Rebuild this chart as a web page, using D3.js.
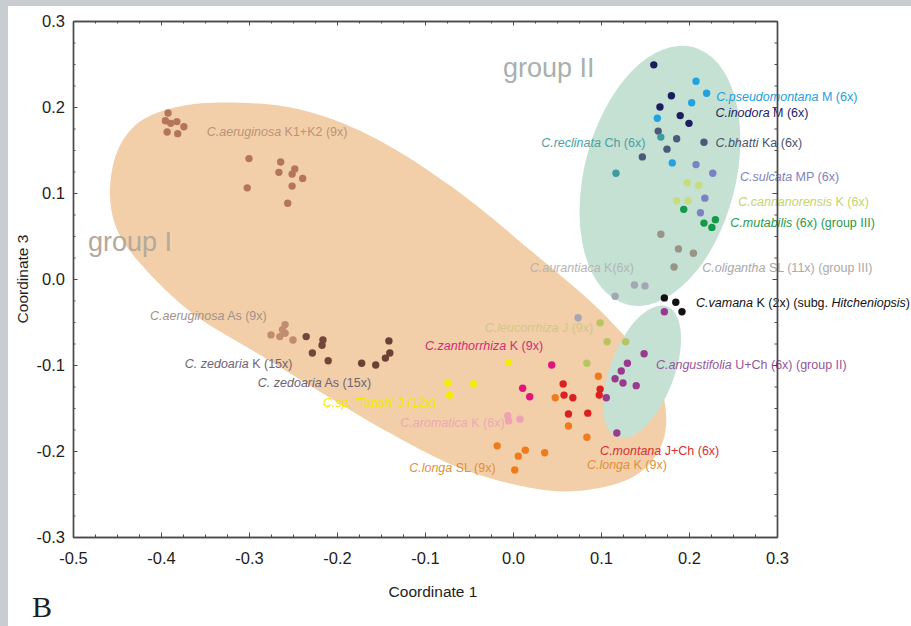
<!DOCTYPE html>
<html>
<head>
<meta charset="utf-8">
<script src="https://cdn.jsdelivr.net/npm/d3@7"></script>
<style>
  body { margin: 0; background: #fff; }
  svg { display: block; font-family: "Liberation Sans", Arial, sans-serif; }
  text { white-space: pre; }
</style>
</head>
<body>
<svg id="chart" width="911" height="626"></svg>
<script>
// ---- data (Coordinate 1, Coordinate 3) ----
var aeruginosaK = [[-0.392,0.193],[-0.395,0.184],[-0.389,0.181],[-0.382,0.183],[-0.374,0.177],[-0.393,0.171],[-0.381,0.169],
  [-0.300,0.140],[-0.302,0.106],[-0.264,0.136],[-0.266,0.124],[-0.248,0.128],[-0.251,0.122],[-0.239,0.117],[-0.251,0.108],[-0.256,0.088]];
var aeruginosaAs = [[-0.259,-0.053],[-0.275,-0.065],[-0.265,-0.067],[-0.259,-0.063],[-0.250,-0.071],[-0.262,-0.059]];
var zedoariaK = [[-0.235,-0.067],[-0.216,-0.071],[-0.217,-0.077],[-0.228,-0.086],[-0.210,-0.095]];
var zedoariaAs = [[-0.172,-0.098],[-0.156,-0.100],[-0.141,-0.072],[-0.140,-0.086],[-0.145,-0.092]];
var tanah = [[-0.005,-0.097],[-0.074,-0.121],[-0.045,-0.122],[-0.072,-0.135]];
var zanthorrhiza = [[0.044,-0.100],[0.011,-0.127],[0.019,-0.137]];
var aromatica = [[-0.006,-0.159],[-0.005,-0.165],[0.008,-0.163]];
var longaSL = [[-0.018,-0.194],[0.006,-0.206],[0.014,-0.199],[0.036,-0.202],[0.002,-0.222]];
var longaK = [[0.048,-0.138],[0.063,-0.171],[0.084,-0.184],[0.097,-0.113]];
var montana = [[0.057,-0.122],[0.058,-0.135],[0.068,-0.138],[0.063,-0.157],[0.085,-0.156],[0.099,-0.128],[0.098,-0.135]];
var leucorrhiza = [[0.099,-0.051],[0.107,-0.073],[0.128,-0.073],[0.084,-0.098]];
var angustifolia = [[0.172,-0.038],[0.149,-0.087],[0.130,-0.098],[0.123,-0.107],[0.116,-0.116],[0.125,-0.121],[0.140,-0.124],[0.106,-0.138],[0.118,-0.179]];
var vamana = [[0.172,-0.022],[0.185,-0.027],[0.192,-0.038]];
var aurantiaca = [[0.074,-0.045],[0.116,-0.020],[0.138,-0.007],[0.150,-0.008]];
var oligantha = [[0.168,0.052],[0.188,0.035],[0.205,0.030],[0.183,0.014]];
var mutabilis = [[0.194,0.081],[0.217,0.065],[0.226,0.060],[0.230,0.069]];
var cannanorensis = [[0.198,0.112],[0.211,0.109],[0.186,0.091],[0.199,0.091]];
var sulcata = [[0.208,0.133],[0.227,0.123],[0.218,0.094],[0.213,0.077]];
var bhatti = [[0.165,0.172],[0.186,0.163],[0.175,0.151],[0.147,0.142],[0.217,0.159]];
var reclinata = [[0.168,0.165],[0.117,0.123]];
var inodora = [[0.160,0.249],[0.180,0.213],[0.167,0.200],[0.190,0.190],[0.200,0.181]];
var pseudomontana = [[0.208,0.230],[0.220,0.216],[0.203,0.205],[0.164,0.187],[0.181,0.135]];

// species labels (*...* = italic)
var seriesLabels = [
  "*C.aeruginosa* K1+K2 (9x)", "*C.aeruginosa* As (9x)", "*C. zedoaria* K (15x)", "*C. zedoaria* As (15x)",
  "*C.sp.* 'Tanah' J (12x)", "*C.zanthorrhiza* K (9x)", "*C.aromatica* K (6x)", "*C.longa* SL (9x)",
  "*C.longa* K (9x)", "*C.montana* J+Ch (6x)", "*C.leucorrhiza* J (9x)", "*C.angustifolia* U+Ch (6x) (group II)",
  "*C.vamana* K (2x) (subg. *Hitcheniopsis*)", "*C.aurantiaca* K(6x)", "*C.oligantha* SL (11x) (group III)",
  "*C.mutabilis* (6x) (group III)", "*C.cannanorensis* K (6x)", "*C.sulcata* MP (6x)", "*C.bhatti* Ka (6x)",
  "*C.reclinata* Ch (6x)", "*C.inodora* M (6x)", "*C.pseudomontana* M (6x)"
];
var seriesData = [aeruginosaK, aeruginosaAs, zedoariaK, zedoariaAs, tanah, zanthorrhiza, aromatica, longaSL,
  longaK, montana, leucorrhiza, angustifolia, vamana, aurantiaca, oligantha, mutabilis, cannanorensis,
  sulcata, bhatti, reclinata, inodora, pseudomontana];

var xTicks = [-0.5, -0.4, -0.3, -0.2, -0.1, 0.0, 0.1, 0.2, 0.3];
var yTicks = [-0.3, -0.2, -0.1, 0.0, 0.1, 0.2, 0.3];

// ---- styles / layout ----
var pointColors = ["#b4765a", "#c18c70", "#74463a", "#6c4034", "#f6ec00", "#e0167c", "#eea2b2", "#ef7c1c",
  "#ef7c1c", "#dc1f22", "#b8c462", "#993a8d", "#111111", "#a5a6b4", "#9b9385", "#12994a", "#c9dc7a",
  "#7b82c2", "#4b5a78", "#3f9ba0", "#1d1d5e", "#22a3e0"];
var labelColors = ["#bb9378", "#a2928a", "#746470", "#6f6472", "#f2e800", "#d42a7a", "#eaaab4", "#e0903e",
  "#e0903e", "#d83030", "#cfc88a", "#96559a", "#111111", "#b4b4b4", "#a9a9a9", "#1f9a4a", "#c4d46a",
  "#7d83bd", "#4a5370", "#4aa0a2", "#23235e", "#22a0dc"];
// label anchor (left edge, vertical middle) in data units
var labelPos = [[-0.348,0.171], [-0.4125,-0.043], [-0.373,-0.098], [-0.290,-0.120], [-0.216,-0.144], [-0.100,-0.078],
  [-0.128,-0.167], [-0.118,-0.219], [0.084,-0.216], [0.099,-0.200], [-0.032,-0.056], [0.1625,-0.100],
  [0.208,-0.027], [0.019,0.013], [0.215,0.013], [0.247,0.065], [0.256,0.090], [0.258,0.119], [0.230,0.158],
  [0.032,0.158], [0.230,0.193], [0.231,0.212]];

// group I outline (data units), closed smooth curve
var groupOneOutline = [[-0.458,0.098],[-0.449,0.150],[-0.424,0.183],[-0.378,0.201],[-0.310,0.205],[-0.242,0.197],
  [-0.163,0.167],[-0.072,0.109],[0.019,0.034],[0.110,-0.048],[0.167,-0.123],[0.171,-0.187],[0.140,-0.228],
  [0.060,-0.247],[-0.049,-0.224],[-0.140,-0.179],[-0.216,-0.133],[-0.291,-0.086],[-0.364,-0.040],[-0.420,0.014],
  [-0.449,0.055]];
// group II outlines: centre, semi-axes (data units), rotation in degrees
var groupTwoShapes = [
  { cx: 0.167, cy: 0.120, a: 0.086, b: 0.151, angle: 14.4 },
  { cx: 0.1466, cy: -0.108, a: 0.0364, b: 0.0795, angle: 21 }
];
var groupNames = [
  { text: "group I", x: -0.483, y: 0.033, color: "#b3a99d" },
  { text: "group II", x: -0.0115, y: 0.235, color: "#aab0ae" }
];

var svg = d3.select("#chart");
var W = 911, H = 626;

// page background: grey strip top and left
svg.append("rect").attr("width", W).attr("height", H).attr("fill", "#c9cdd1");
svg.append("rect").attr("x", 8).attr("y", 6).attr("width", W - 8).attr("height", H - 6).attr("fill", "#fff");

var x = d3.scaleLinear().domain([-0.5, 0.3]).range([73, 777]);
var y = d3.scaleLinear().domain([-0.3, 0.3]).range([537, 21]);
var px = function (v) { return x(v) - x(0); };

// group I shape
var outline = d3.line()
  .x(function (d) { return x(d[0]); })
  .y(function (d) { return y(d[1]); })
  .curve(d3.curveCatmullRomClosed.alpha(0.5));
svg.append("path")
  .attr("d", outline(groupOneOutline))
  .attr("fill", "#f2cfa8");

// group II ellipses
svg.append("g").selectAll("ellipse")
  .data(groupTwoShapes)
  .enter()
  .append("ellipse")
  .attr("cx", 0).attr("cy", 0)
  .attr("rx", function (d) { return px(d.a); })
  .attr("ry", function (d) { return px(d.b); })
  .attr("transform", function (d) { return "translate(" + x(d.cx) + "," + y(d.cy) + ") rotate(" + d.angle + ")"; })
  .attr("fill", "#c4e1d4");

svg.append("g").selectAll("text")
  .data(groupNames)
  .enter()
  .append("text")
  .attr("x", function (d) { return x(d.x); })
  .attr("y", function (d) { return y(d.y); })
  .attr("font-size", 27)
  .attr("fill", function (d) { return d.color; })
  .text(function (d) { return d.text; });

// points
var ptGroups = svg.append("g").selectAll("g")
  .data(seriesData)
  .enter()
  .append("g")
  .attr("fill", function (_, i) { return pointColors[i]; });
ptGroups.selectAll("circle")
  .data(function (d) { return d; })
  .enter()
  .append("circle")
  .attr("cx", function (d) { return x(d[0]); })
  .attr("cy", function (d) { return y(d[1]); })
  .attr("r", 3.7);

// species labels
function richText(sel, str) {
  str.split("*").forEach(function (part, i) {
    if (part) sel.append("tspan").attr("font-style", i % 2 ? "italic" : "normal").text(part);
  });
}
svg.append("g").selectAll("text")
  .data(seriesLabels)
  .enter()
  .append("text")
  .attr("x", function (_, i) { return x(labelPos[i][0]); })
  .attr("y", function (_, i) { return y(labelPos[i][1]); })
  .attr("dy", "0.35em")
  .attr("font-size", 12.5)
  .attr("fill", function (_, i) { return labelColors[i]; })
  .each(function (d) { richText(d3.select(this), d); });

// frame with inward ticks
var xMinor = d3.range(-0.5, 0.3001, 0.025);
var yMinor = d3.range(-0.3, 0.3001, 0.025);
var fmt = function (d) { return d.toFixed(1); };

function styleAxis(g) {
  g.selectAll("path").attr("stroke", "#4a4a4a").attr("stroke-width", 1.4);
  g.selectAll("line").attr("stroke", "#4a4a4a").attr("stroke-width", 1);
  g.selectAll("text").attr("fill", "#1e1e1e").attr("font-size", 16.5).attr("font-family", "Liberation Sans, Arial, sans-serif");
}

var axes = svg.append("g");
function frameSide(axisFn, tr, vals, size, pad, format) {
  axes.append("g").attr("transform", tr)
    .call(axisFn.tickValues(vals).tickSize(size).tickSizeOuter(0).tickPadding(pad).tickFormat(format))
    .call(styleAxis);
}
frameSide(d3.axisBottom(x), "translate(0,537)", xMinor, -2.5, 0, "");
frameSide(d3.axisBottom(x), "translate(0,537)", xTicks, -4.5, 15, fmt);
frameSide(d3.axisTop(x), "translate(0,21)", xMinor, -2.5, 0, "");
frameSide(d3.axisTop(x), "translate(0,21)", xTicks, -4.5, 0, "");
frameSide(d3.axisLeft(y), "translate(73,0)", yMinor, -2.5, 0, "");
frameSide(d3.axisLeft(y), "translate(73,0)", yTicks, -4.5, 8, fmt);
frameSide(d3.axisRight(y), "translate(777,0)", yMinor, -2.5, 0, "");
frameSide(d3.axisRight(y), "translate(777,0)", yTicks, -4.5, 0, "");

// axis titles
svg.append("text")
  .attr("x", (x(-0.5) + x(0.3)) / 2 + 8).attr("y", 597)
  .attr("text-anchor", "middle").attr("font-size", 15.5).attr("fill", "#1e1e1e")
  .text("Coordinate 1");
svg.append("text")
  .attr("transform", "translate(28," + ((y(-0.3) + y(0.3)) / 2) + ") rotate(-90)")
  .attr("text-anchor", "middle").attr("font-size", 15.5).attr("fill", "#1e1e1e")
  .text("Coordinate 3");

// panel letter
svg.append("text")
  .attr("x", 32).attr("y", 617)
  .attr("font-family", "Liberation Serif, Times New Roman, serif")
  .attr("font-size", 30).attr("fill", "#1e1e1e")
  .text("B");
</script>
</body>
</html>
